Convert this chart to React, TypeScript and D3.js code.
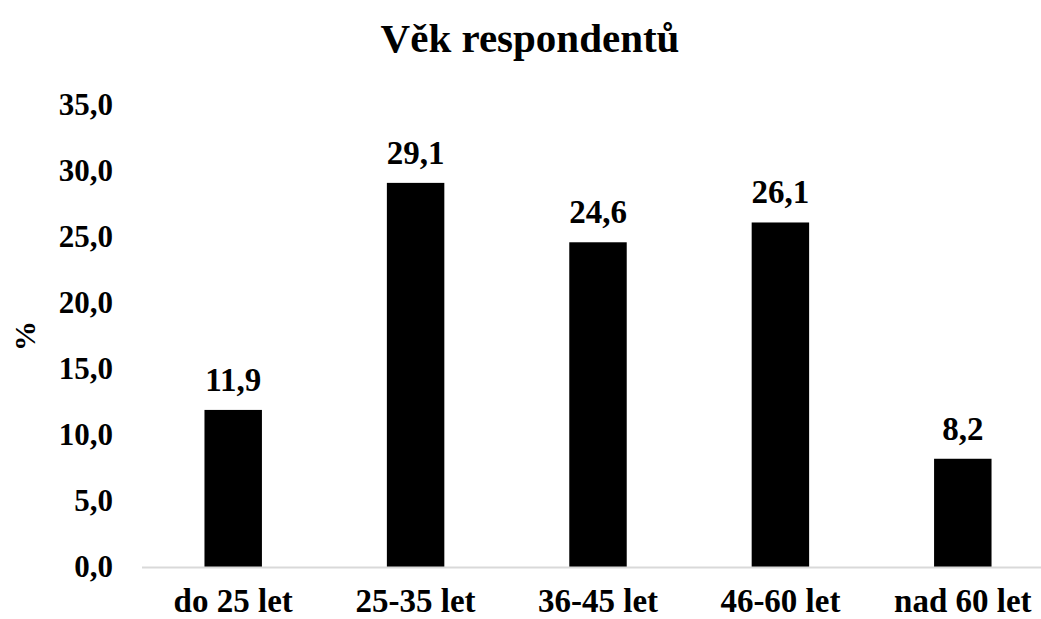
import React from "react";
import * as d3 from "d3";

const categories = ["do 25 let", "25-35 let", "36-45 let", "46-60 let", "nad 60 let"];
const values = [11.9, 29.1, 24.6, 26.1, 8.2];
const yTicks = [0, 5, 10, 15, 20, 25, 30, 35];
const title = "Věk respondentů";
const yLabel = "%";

const W = 1041;
const H = 619;
const margin = { left: 142, right: -13, top: 105, bottom: 52 };
const FONT = "Liberation Serif, Times New Roman, DejaVu Serif, serif";

export default function App() {
  const x = d3
    .scaleBand<string>()
    .domain(categories)
    .range([margin.left, W - margin.right])
    .paddingInner(0.685)
    .paddingOuter(0.3425);
  const y = d3.scaleLinear().domain([0, 35]).range([H - margin.bottom, margin.top]);
  const fmt = (v: number) => v.toFixed(1).replace(".", ",");
  const ts = { fontFamily: FONT, fontWeight: 700 } as React.CSSProperties;

  return (
    <svg
      width={W}
      height={H}
      style={{ position: "absolute", left: 0, top: 0, background: "#fff" }}
    >
      <rect x={0} y={0} width={W} height={H} fill="#fff" />
      <text x={530} y={52} textAnchor="middle" style={{ ...ts, fontSize: 41 }}>
        {title}
      </text>
      <text
        transform={`translate(35, ${(y(0) + y(35)) / 2}) rotate(-90)`}
        textAnchor="middle"
        style={{ ...ts, fontSize: 30 }}
      >
        {yLabel}
      </text>
      {yTicks.map((t) => (
        <text key={t} x={113} y={y(t) + 10} textAnchor="end" style={{ ...ts, fontSize: 31 }}>
          {fmt(t)}
        </text>
      ))}
      {categories.map((c, i) => (
        <g key={c}>
          <rect
            x={x(c)!}
            y={y(values[i])}
            width={x.bandwidth()}
            height={y(0) - y(values[i])}
            fill="#000"
          />
          <text
            x={x(c)! + x.bandwidth() / 2}
            y={y(values[i]) - 19}
            textAnchor="middle"
            style={{ ...ts, fontSize: 33 }}
          >
            {fmt(values[i])}
          </text>
          <text
            x={x(c)! + x.bandwidth() / 2}
            y={612}
            textAnchor="middle"
            style={{ ...ts, fontSize: 33 }}
          >
            {c}
          </text>
        </g>
      ))}
      <line x1={margin.left} x2={W} y1={y(0) + 0.5} y2={y(0) + 0.5} stroke="#d9d9d9" strokeWidth={2} />
    </svg>
  );
}
